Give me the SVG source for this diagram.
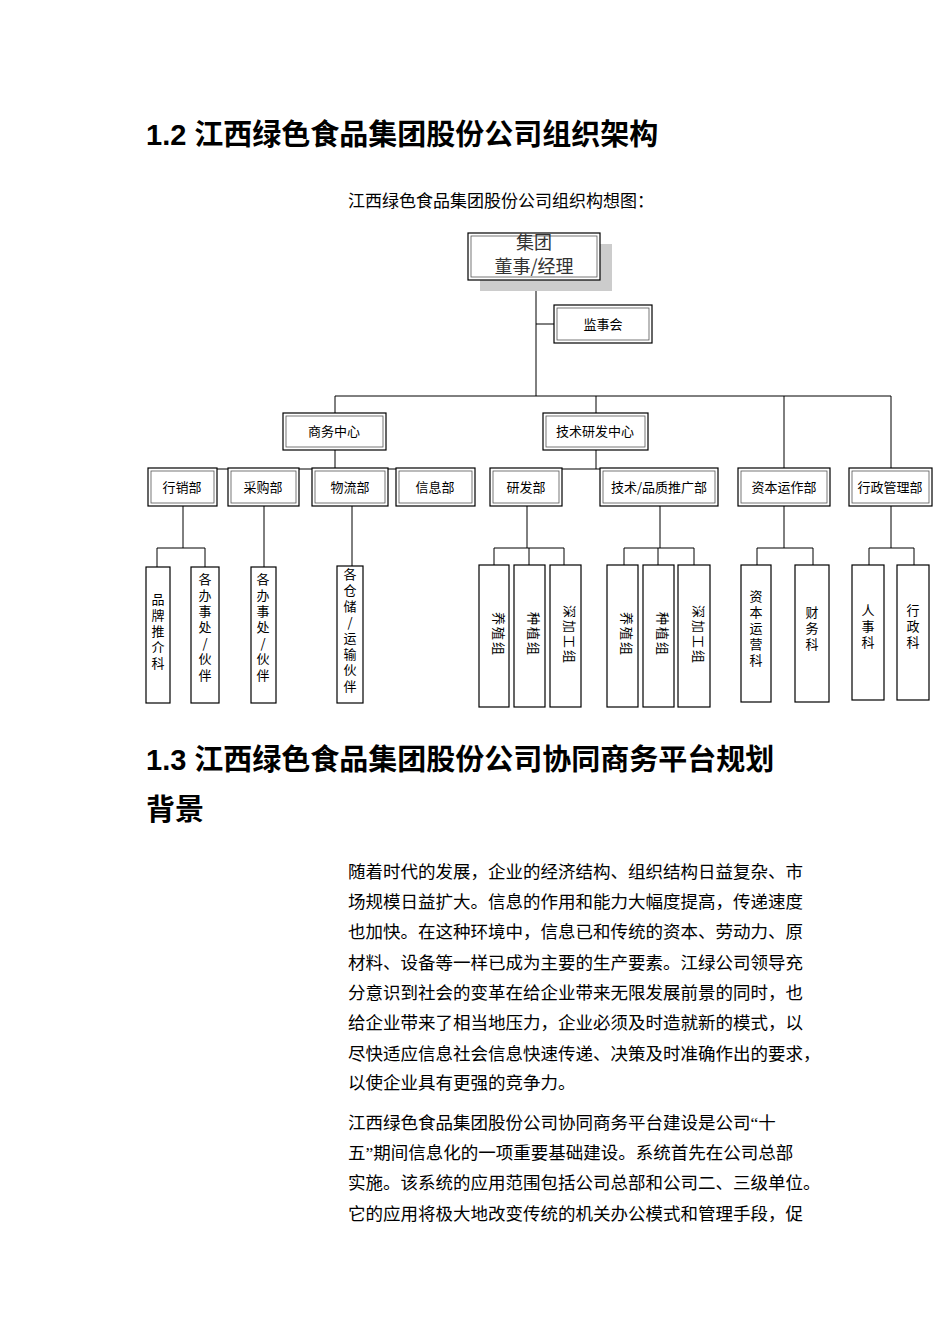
<svg xmlns="http://www.w3.org/2000/svg" width="950" height="1344" viewBox="0 0 950 1344">
<style>
.h{font-family:"Liberation Sans","Noto Sans CJK SC",sans-serif;font-weight:bold;font-size:29px;fill:#000}
.p{font-family:"Liberation Serif","Noto Sans CJK SC",serif;font-size:17.5px;fill:#000}
.b{fill:#fff;stroke:#000;stroke-width:1.2}
.bi{fill:none;stroke:#555;stroke-width:0.8}
.t{font-family:"Noto Sans CJK SC",sans-serif;font-size:13px;fill:#000;text-anchor:middle}
.big{font-size:18px;fill:#333}
.v{font-family:"Noto Sans CJK SC",sans-serif;font-size:13px;fill:#000;writing-mode:vertical-rl;text-orientation:upright;letter-spacing:3px}
.vs{font-family:"Noto Sans CJK SC",sans-serif;font-size:13px;fill:#000;writing-mode:vertical-rl;text-orientation:sideways;letter-spacing:2px}
.c{fill:none;stroke:#000;stroke-width:1}
</style>
<text class="h" x="146" y="145">1.2 江西绿色食品集团股份公司组织架构</text>
<text class="p" x="348" y="207" style="font-size:17px">江西绿色食品集团股份公司组织构想图：</text>
<g id="connectors">
<path class="c" d="M536 280V396M536 324H554M335 396H891M335 396V413M596 396V413M784 396V468M891 396V468"/>
<path class="c" d="M335 450V469M183 469H437M183 469V468M264 469V468M352 469V468M437 469V468"/>
<path class="c" d="M596 450V469M527 469H660"/>
<path class="c" d="M183 506V548M157 548H205M157 548V567M205 548V567M264 506V567M352 506V566"/>
<path class="c" d="M527 506V548M494 548H564M494 548V565M529 548V565M564 548V565"/>
<path class="c" d="M660 506V548M624 548H694M624 548V565M658 548V565M694 548V565"/>
<path class="c" d="M784 506V548M757 548H813M757 548V565M813 548V565"/>
<path class="c" d="M891 506V548M869 548H914M869 548V565M914 548V565"/>
</g>
<g id="top"><rect x="480" y="244" width="132" height="47" fill="#ccc"/><rect class="b" x="468" y="233" width="132" height="47"/><rect class="bi" x="471" y="236" width="126" height="41"/><text class="t big" x="534" y="249">集团</text><text class="t big" x="534" y="273">董事/经理</text></g>
<g id="jsh"><rect class="b" x="554" y="305" width="98" height="38"/><rect class="bi" x="557" y="308" width="92" height="32"/><text class="t" x="603" y="329">监事会</text></g>
<g id="swzx"><rect class="b" x="283" y="413" width="103" height="37"/><rect class="bi" x="286" y="416" width="97" height="31"/><text class="t" x="334" y="436">商务中心</text></g>
<g id="jsyf"><rect class="b" x="543" y="413" width="105" height="37"/><rect class="bi" x="546" y="416" width="99" height="31"/><text class="t" x="595" y="436">技术研发中心</text></g>
<g id="d1"><rect class="b" x="148" y="468" width="69" height="38"/><rect class="bi" x="151" y="471" width="63" height="32"/><text class="t" x="182" y="492">行销部</text></g>
<g id="d2"><rect class="b" x="228" y="468" width="71" height="38"/><rect class="bi" x="231" y="471" width="65" height="32"/><text class="t" x="263" y="492">采购部</text></g>
<g id="d3"><rect class="b" x="312" y="468" width="76" height="38"/><rect class="bi" x="315" y="471" width="70" height="32"/><text class="t" x="350" y="492">物流部</text></g>
<g id="d4"><rect class="b" x="396" y="468" width="79" height="38"/><rect class="bi" x="399" y="471" width="73" height="32"/><text class="t" x="435" y="492">信息部</text></g>
<g id="d5"><rect class="b" x="490" y="468" width="72" height="38"/><rect class="bi" x="493" y="471" width="66" height="32"/><text class="t" x="526" y="492">研发部</text></g>
<g id="d6"><rect class="b" x="600" y="468" width="118" height="38"/><rect class="bi" x="603" y="471" width="112" height="32"/><text class="t" x="659" y="492">技术/品质推广部</text></g>
<g id="d7"><rect class="b" x="738" y="468" width="92" height="38"/><rect class="bi" x="741" y="471" width="86" height="32"/><text class="t" x="784" y="492">资本运作部</text></g>
<g id="d8"><rect class="b" x="849" y="468" width="83" height="38"/><rect class="bi" x="852" y="471" width="77" height="32"/><text class="t" x="890" y="492">行政管理部</text></g>
<g id="s1"><rect class="b" x="146" y="567" width="24" height="136"/><text class="v" x="158" y="593">品牌推介科</text></g>
<g id="s2"><rect class="b" x="191" y="567" width="28" height="136"/><text class="v" x="205" y="573">各办事处/伙伴</text></g>
<g id="s3"><rect class="b" x="251" y="567" width="25" height="136"/><text class="v" x="263" y="573">各办事处/伙伴</text></g>
<g id="s4"><rect class="b" x="337" y="566" width="26" height="137"/><text class="v" x="350" y="568">各仓储/运输伙伴</text></g>
<g id="s5"><rect class="b" x="479" y="565" width="30" height="142"/><text class="vs" x="494" y="612">养殖组</text></g>
<g id="s6"><rect class="b" x="514" y="565" width="31" height="142"/><text class="vs" x="529" y="612">种植组</text></g>
<g id="s7"><rect class="b" x="550" y="565" width="31" height="142"/><text class="vs" x="565" y="605">深加工组</text></g>
<g id="s8"><rect class="b" x="607" y="565" width="31" height="142"/><text class="vs" x="622" y="612">养殖组</text></g>
<g id="s9"><rect class="b" x="643" y="565" width="31" height="142"/><text class="vs" x="658" y="612">种植组</text></g>
<g id="s10"><rect class="b" x="678" y="565" width="32" height="142"/><text class="vs" x="694" y="605">深加工组</text></g>
<g id="s11"><rect class="b" x="741" y="565" width="30" height="137"/><text class="v" x="756" y="590">资本运营科</text></g>
<g id="s12"><rect class="b" x="795" y="565" width="34" height="137"/><text class="v" x="812" y="606">财务科</text></g>
<g id="s13"><rect class="b" x="852" y="565" width="32" height="135"/><text class="v" x="868" y="604">人事科</text></g>
<g id="s14"><rect class="b" x="897" y="565" width="32" height="135"/><text class="v" x="913" y="604">行政科</text></g>
<text class="h" x="146" y="770">1.3 江西绿色食品集团股份公司协同商务平台规划</text>
<text class="h" x="146" y="820">背景</text>
<g class="p">
<text x="348" y="878">随着时代的发展，企业的经济结构、组织结构日益复杂、市</text>
<text x="348" y="908">场规模日益扩大。信息的作用和能力大幅度提高，传递速度</text>
<text x="348" y="938">也加快。在这种环境中，信息已和传统的资本、劳动力、原</text>
<text x="348" y="969">材料、设备等一样已成为主要的生产要素。江绿公司领导充</text>
<text x="348" y="999">分意识到社会的变革在给企业带来无限发展前景的同时，也</text>
<text x="348" y="1029">给企业带来了相当地压力，企业必须及时造就新的模式，以</text>
<text x="348" y="1060">尽快适应信息社会信息快速传递、决策及时准确作出的要求，</text>
<text x="348" y="1089">以使企业具有更强的竞争力。</text>
<text x="348" y="1129">江西绿色食品集团股份公司协同商务平台建设是公司“十</text>
<text x="348" y="1159">五”期间信息化的一项重要基础建设。系统首先在公司总部</text>
<text x="348" y="1189">实施。该系统的应用范围包括公司总部和公司二、三级单位。</text>
<text x="348" y="1220">它的应用将极大地改变传统的机关办公模式和管理手段，促</text>
</g>
</svg>
